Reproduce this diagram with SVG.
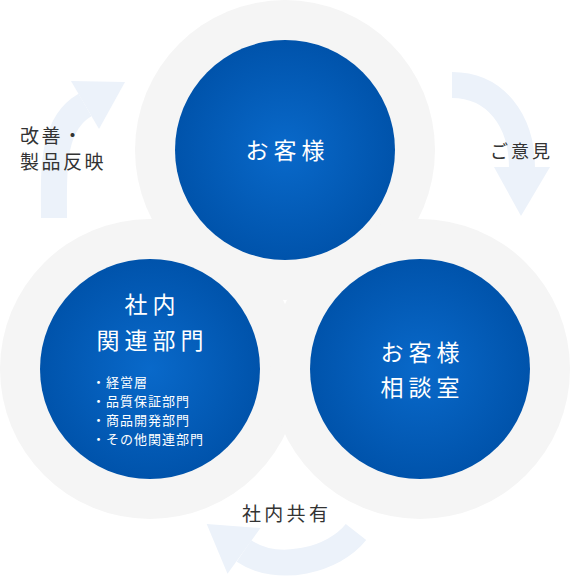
<svg xmlns="http://www.w3.org/2000/svg" width="570" height="584" viewBox="0 0 570 584">
<defs>
<radialGradient id="blue" cx="50%" cy="50%" r="50%">
<stop offset="0%" stop-color="#0969ca"/>
<stop offset="100%" stop-color="#0053ab"/>
</radialGradient>
<style>
.ring{fill:#f5f5f5}
.core{fill:url(#blue)}
.band{fill:none;stroke:#ecf2fa;stroke-width:26}
.head{fill:#ecf2fa}
.wt{fill:#ffffff;font-family:"Noto Sans CJK JP","Noto Sans",sans-serif;font-size:23px;letter-spacing:5px;text-anchor:middle}
.li{fill:#ffffff;font-family:"Noto Sans CJK JP","Noto Sans",sans-serif;font-size:13px;letter-spacing:1px}
.lb{fill:#333333;font-family:"Noto Sans CJK JP","Noto Sans",sans-serif}
</style>
</defs>
<rect width="570" height="584" fill="#ffffff"/>
<g id="connectors">
<g id="arrow-feedback">
<path class="band" d="M452,85 C495,85 522,120 522,168"/>
<polygon class="head" points="494,167 550,167 521,216"/>
</g>
<g id="arrow-share">
<path class="band" d="M356,532 C334,560 278,574 244,551"/>
<polygon class="head" points="260.5,528 227.5,573.7 206.7,523.9"/>
</g>
<g id="arrow-improve">
<path class="band" d="M54,218 C54,175 50,125 85,105"/>
<polygon class="head" points="71,81 99,129 125,82"/>
</g>
<text class="lb" x="490" y="158" font-size="18" letter-spacing="3">ご意見</text>
<text class="lb" x="242" y="521" font-size="19" letter-spacing="3.3">社内共有</text>
<text class="lb" x="20" y="143" font-size="19" letter-spacing="2.5">改善・</text>
<text class="lb" x="20" y="169" font-size="19" letter-spacing="2.5">製品反映</text>
</g>
<g id="rings">
<circle class="ring" cx="285" cy="150" r="150"/>
<circle class="ring" cx="150" cy="369" r="150"/>
<circle class="ring" cx="420" cy="369" r="150"/>
</g>
<g id="node-customer">
<circle class="core" cx="285" cy="150" r="110"/>
<text class="wt" x="287.5" y="159">お客様</text>
</g>
<g id="node-internal">
<circle class="core" cx="150" cy="369" r="110"/>
<text class="wt" x="152.5" y="313">社内</text>
<text class="wt" x="152.5" y="349">関連部門</text>
<text class="li" x="92" y="387">・経営層</text>
<text class="li" x="92" y="406">・品質保証部門</text>
<text class="li" x="92" y="425">・商品開発部門</text>
<text class="li" x="92" y="444">・その他関連部門</text>
</g>
<g id="node-support">
<circle class="core" cx="420" cy="369" r="110"/>
<text class="wt" x="422.5" y="361">お客様</text>
<text class="wt" x="422.5" y="396">相談室</text>
</g>
</svg>
